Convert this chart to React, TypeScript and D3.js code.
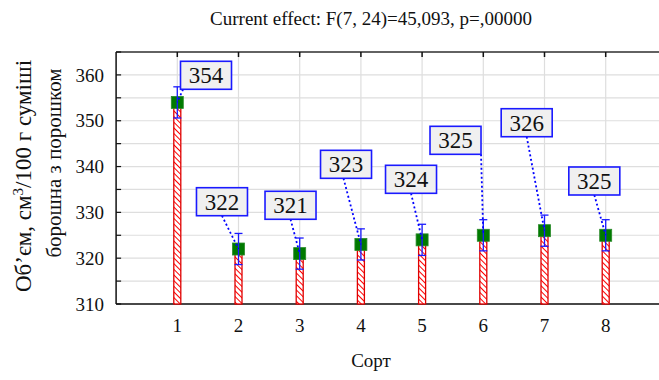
import React from "react";
import * as d3 from "d3";

const categories = ["1", "2", "3", "4", "5", "6", "7", "8"];
const means = [354, 322, 321, 323, 324, 325, 326, 325];
const errors = [3.4, 3.4, 3.4, 3.4, 3.4, 3.4, 3.4, 3.4];
const yTicks = [310, 320, 330, 340, 350, 360];
const yGrid = [310, 315, 320, 325, 330, 335, 340, 345, 350, 355, 360, 365];
// label box placement (category units / value units) and connector start fraction along box bottom
const labelX = [1.469, 1.73, 2.85, 3.757, 4.819, 5.546, 6.709, 7.814];
const labelY = [356.86, 329.27, 328.49, 337.43, 334.16, 342.67, 346.51, 333.79];
const labelAnchor = [0.05, 0.5, 0.5, 0.45, 0.5, 1.0, 0.5, 0.5];

const title = "Current effect: F(7, 24)=45,093, p=,00000";
const xTitle = "Сорт";
const yTitle1 = "Об’єм, см";
const yTitle1b = "/100 г суміші";
const yTitle2 = "борошна з порошком";

const W = 659, H = 380;
const FONT = "Liberation Serif, Times New Roman, serif";

export default function App() {
  const x = d3.scaleLinear().domain([0, 9]).range([116.1, 116.1 + 9 * 61.2]);
  const y = d3.scaleLinear().domain([310, 365]).range([304, 52]);
  const cats = categories.map((_, i) => i + 1);
  const barW = 7;
  const boxW = 51, boxH = 28;
  const mk = 12;
  const capW = 8;

  return (
    <svg width={W} height={H} style={{ position: "absolute", left: 0, top: 0, background: "#fff", fontFamily: FONT }}>
      <defs>
        <pattern id="hatch" patternUnits="userSpaceOnUse" width="4" height="4" patternTransform="rotate(-45)">
          <rect width="4" height="4" fill="#fff" />
          <line x1="0" y1="0" x2="0" y2="4" stroke="#ff0000" strokeWidth="2" />
        </pattern>
      </defs>
      <rect x={0} y={0} width={W} height={H} fill="#fff" />
      {/* grid */}
      {yGrid.map((v) => (
        <line key={"gy" + v} x1={x(0)} x2={W} y1={y(v)} y2={y(v)} stroke="#dedede" strokeWidth={1.2} />
      ))}
      {cats.map((c) => (
        <line key={"gx" + c} x1={x(c)} x2={x(c)} y1={y(365)} y2={y(310)} stroke="#dedede" strokeWidth={1.2} />
      ))}
      {/* frame */}
      <line x1={x(0)} x2={W} y1={y(365)} y2={y(365)} stroke="#333" strokeWidth={1.5} />
      <line x1={x(0)} x2={W} y1={y(310)} y2={y(310)} stroke="#111" strokeWidth={1.5} />
      <line x1={x(0)} x2={x(0)} y1={y(365)} y2={y(310)} stroke="#111" strokeWidth={1.5} />
      {yGrid.map((v) => (
        <line key={"ty" + v} x1={x(0)} x2={x(0) + 5} y1={y(v)} y2={y(v)} stroke="#111" strokeWidth={1.2} />
      ))}
      {cats.map((c) => (
        <g key={"tx" + c}>
          <line x1={x(c)} x2={x(c)} y1={y(365)} y2={y(365) + 5} stroke="#111" strokeWidth={1.5} />
          <line x1={x(c)} x2={x(c)} y1={y(310)} y2={y(310) - 4} stroke="#111" strokeWidth={1.5} />
        </g>
      ))}
      {/* bars */}
      {means.map((m, i) => (
        <rect key={"b" + i} x={x(cats[i]) - barW / 2} y={y(m)} width={barW} height={y(310) - y(m)}
          fill="url(#hatch)" stroke="#e00000" strokeWidth={1.3} />
      ))}
      {/* markers */}
      {means.map((m, i) => (
        <rect key={"m" + i} x={x(cats[i]) - mk / 2} y={y(m) - mk / 2} width={mk} height={mk}
          fill="#007a00" stroke="#2a8a2a" strokeWidth={0.8} />
      ))}
      {/* error bars */}
      {means.map((m, i) => {
        const cx = x(cats[i]);
        const t = y(m + errors[i]);
        const b = y(m - errors[i]);
        return (
          <g key={"e" + i} stroke="#1a1aff" strokeWidth={1.3}>
            <line x1={cx} x2={cx} y1={t} y2={b} />
            <line x1={cx - capW / 2} x2={cx + capW / 2} y1={t} y2={t} />
            <line x1={cx - capW / 2} x2={cx + capW / 2} y1={b} y2={b} />
          </g>
        );
      })}
      {/* connectors */}
      {means.map((m, i) => {
        const bx = x(labelX[i]) - boxW / 2 + labelAnchor[i] * boxW;
        const by = y(labelY[i]);
        return (
          <line key={"c" + i} x1={bx} y1={by} x2={x(cats[i])} y2={y(m)} stroke="#0000ff"
            strokeWidth={1.8} strokeDasharray="2,2.5" />
        );
      })}
      {/* label boxes */}
      {means.map((m, i) => {
        const cx = x(labelX[i]);
        const by = y(labelY[i]);
        return (
          <g key={"l" + i}>
            <rect x={cx - boxW / 2} y={by - boxH} width={boxW} height={boxH} fill="#f0f0f0" stroke="#1a1aff" strokeWidth={1.6} />
            <text x={cx} y={by - boxH / 2} dy="0.35em" textAnchor="middle" fontSize={23} fill="#111" fontFamily={FONT}>{String(m)}</text>
          </g>
        );
      })}
      {/* y tick labels */}
      {yTicks.map((v) => (
        <text key={"yl" + v} x={x(0) - 12} y={y(v)} dy="0.35em" textAnchor="end" fontSize={19} fill="#111" fontFamily={FONT}>{v}</text>
      ))}
      {/* x tick labels */}
      {categories.map((c, i) => (
        <text key={"xl" + c} x={x(cats[i])} y={332} textAnchor="middle" fontSize={19} fill="#111" fontFamily={FONT}>{c}</text>
      ))}
      <text x={371} y={25} textAnchor="middle" fontSize={19} fill="#111" fontFamily={FONT}>{title}</text>
      <text x={371} y={367} textAnchor="middle" fontSize={19} fill="#111" fontFamily={FONT}>{xTitle}</text>
      <g transform={`translate(31,176) rotate(-90)`}>
        <text x={0} y={0} textAnchor="middle" fontSize={23} fill="#111" fontFamily={FONT}>
          {yTitle1}<tspan dy="-8" fontSize={15}>3</tspan><tspan dy="8">{yTitle1b}</tspan>
        </text>
      </g>
      <g transform={`translate(61,163) rotate(-90)`}>
        <text x={0} y={0} textAnchor="middle" fontSize={21} fill="#111" fontFamily={FONT}>{yTitle2}</text>
      </g>
    </svg>
  );
}
